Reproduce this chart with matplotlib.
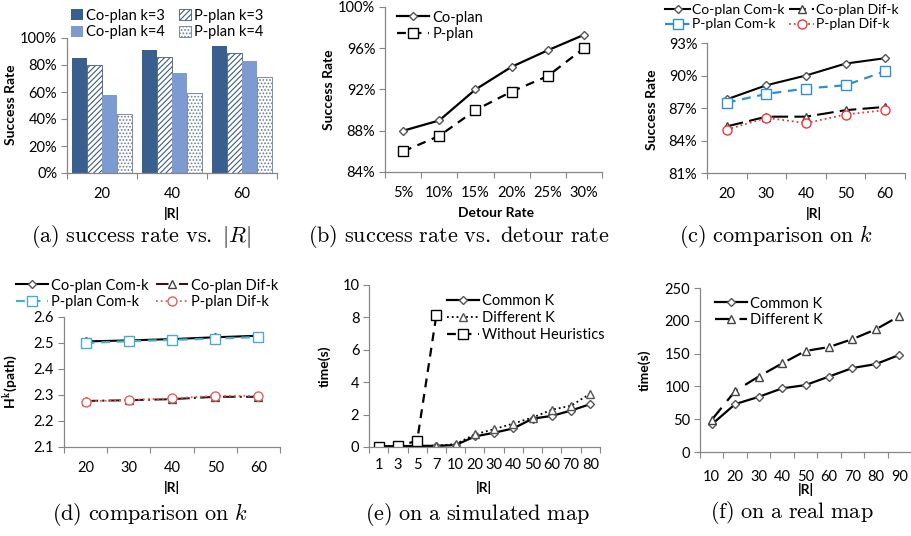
import matplotlib
matplotlib.use('Agg')
from matplotlib import pyplot as plt
import numpy as np

plt.rcParams['font.family'] = ['Lato', 'DejaVu Sans']
plt.rcParams['mathtext.fontset'] = 'cm'
plt.rcParams['hatch.linewidth'] = 0.8

# ---- data ----
# (a) success rate vs |R|
a_cats = ['20', '40', '60']
a_co3 = [85, 91, 94]
a_p3 = [80, 86, 89]
a_co4 = [58, 74, 83]
a_p4 = [43.5, 59, 71]

# (b) success rate vs detour rate
b_cats = ['5%', '10%', '15%', '20%', '25%', '30%']
b_co = [88.0, 89.0, 92.0, 94.2, 95.8, 97.3]
b_p = [86.0, 87.5, 90.0, 91.8, 93.3, 96.0]

# (c) comparison on k (success rate)
c_cats = ['20', '30', '40', '50', '60']
c_co_com = [87.8, 89.1, 90.0, 91.1, 91.6]
c_co_dif = [85.3, 86.2, 86.2, 86.8, 87.1]
c_p_com = [87.5, 88.3, 88.8, 89.1, 90.4]
c_p_dif = [85.0, 86.1, 85.6, 86.4, 86.8]

# (d) comparison on k (H^k(path))
d_cats = ['20', '30', '40', '50', '60']
d_co_com = [2.506, 2.510, 2.515, 2.522, 2.528]
d_co_dif = [2.277, 2.280, 2.284, 2.293, 2.293]
d_p_com = [2.500, 2.507, 2.512, 2.517, 2.523]
d_p_dif = [2.275, 2.281, 2.287, 2.297, 2.297]

# (e) simulated map
e_cats = ['1', '3', '5', '7', '10', '20', '30', '40', '50', '60', '70', '80']
e_common = [0.05, 0.05, 0.07, 0.07, 0.12, 0.65, 0.88, 1.15, 1.75, 1.92, 2.25, 2.65]
e_diff = [0.05, 0.05, 0.07, 0.08, 0.18, 0.78, 1.1, 1.45, 1.82, 2.3, 2.55, 3.3]
e_without = [0.03, 0.06, 0.38, 8.15]

# (f) real map
f_cats = ['10', '20', '30', '40', '50', '60', '70', '80', '90']
f_common = [42, 73, 84, 97, 102, 115, 128, 134, 148]
f_diff = [49, 93, 115, 135, 154, 160, 172, 187, 207]

W, H = 911, 536
fig = plt.figure(figsize=(W / 100, H / 100), dpi=100)

GRAY = '#868686'
TICK_FS = 10.5
LAB_FS = 10
LEG_FS = 10.5
CAP_FS = 16


def add_ax(l, t, r, b):
    return fig.add_axes([l / W, 1 - b / H, (r - l) / W, (b - t) / H])


def style(ax, cats, pad=10):
    n = len(cats)
    for s in ['top', 'right']:
        ax.spines[s].set_visible(False)
    for s in ['left', 'bottom']:
        ax.spines[s].set_color(GRAY)
        ax.spines[s].set_linewidth(0.9)
    ax.set_xlim(-0.5, n - 0.5)
    ax.set_xticks(np.arange(n + 1) - 0.5)
    ax.set_xticklabels([])
    ax.set_xticks(np.arange(n), cats, minor=True)
    ax.tick_params(axis='x', which='major', direction='out', length=4, color=GRAY)
    ax.tick_params(axis='x', which='minor', length=0, labelsize=TICK_FS, pad=pad)
    ax.tick_params(axis='y', direction='out', length=4, color=GRAY, labelsize=TICK_FS, pad=3)


def labels(ax, ylab, ypos, xlab, xpos):
    ax.set_ylabel(ylab, fontsize=LAB_FS, fontweight='bold')
    ax.yaxis.set_label_coords(ypos[0] / W, 1 - ypos[1] / H, transform=fig.transFigure)
    ax.set_xlabel(xlab, fontsize=LAB_FS, fontweight='bold', va='center')
    ax.xaxis.set_label_coords(xpos[0] / W, 1 - xpos[1] / H, transform=fig.transFigure)


def legend(ax, handles, cx, cy, ncol=1, **kw):
    opts = dict(loc='center', bbox_to_anchor=(cx / W, 1 - cy / H), bbox_transform=fig.transFigure,
                ncol=ncol, frameon=False, fontsize=LEG_FS, borderpad=0, labelspacing=0.2,
                handletextpad=0.2, columnspacing=0.5, handlelength=2.2)
    opts.update(kw)
    ax.legend(handles=handles, **opts)


def caption(x, y, s):
    fig.text(x / W, 1 - y / H, s, ha='center', va='center', fontsize=CAP_FS)


pct = lambda v, p: '{:.0f}%'.format(v)

# ---- (a) ----
ax = add_ax(67, 38, 277, 173)
style(ax, a_cats)
x = np.arange(len(a_cats))
bw = 0.215
b1 = ax.bar(x - 1.5 * bw, a_co3, bw, color='#395f8f', label='Co-plan k=3')
b2 = ax.bar(x - 0.5 * bw, a_p3, bw, color='white', edgecolor='#3f5a80', hatch='//////', lw=0.6, label='P-plan k=3')
b3 = ax.bar(x + 0.5 * bw, a_co4, bw, color='#7d9bd0', label='Co-plan k=4')
b4 = ax.bar(x + 1.5 * bw, a_p4, bw, color='white', edgecolor='#6a7c99', hatch='.....', lw=0.6, label='P-plan k=4')
ax.set_ylim(0, 100)
ax.set_yticks(np.arange(0, 101, 20))
ax.yaxis.set_major_formatter(pct)
labels(ax, 'Success Rate', (17, 105), '|R|', (172, 213))
legend(ax, [b1, b3, b2, b4], 167, 24, ncol=2, handlelength=0.8, handleheight=0.8, columnspacing=1.0)
caption(141, 236, r'$\mathrm{(a)\ success\ rate\ vs.\ }|R|$')

# ---- (b) ----
ax = add_ax(385, 7, 602, 172)
style(ax, b_cats)
x = np.arange(len(b_cats))
l1, = ax.plot(x, b_co, '-', color='black', lw=1.6, marker='D', ms=4.5, mfc='white', mec='#555555', label='Co-plan')
l2, = ax.plot(x, b_p, '--', color='black', lw=1.6, dashes=(4, 3), marker='s', ms=7, mfc='white', mec='black', label='P-plan')
ax.set_ylim(84, 100)
ax.set_yticks(np.arange(84, 101, 4))
ax.yaxis.set_major_formatter(pct)
labels(ax, 'Success Rate', (335, 90), 'Detour Rate', (496, 213))
legend(ax, [l1, l2], 440, 26)
caption(459, 236, r'$\mathrm{(b)\ success\ rate\ vs.\ detour\ rate}$')

# ---- (c) ----
ax = add_ax(707, 43, 905, 173)
style(ax, c_cats)
x = np.arange(len(c_cats))
l1, = ax.plot(x, c_co_com, '-', color='black', lw=1.5, marker='D', ms=4.5, mfc='white', mec='#555555', label='Co-plan Com-k')
l2, = ax.plot(x, c_co_dif, '-', color='black', lw=1.5, marker='^', ms=6, mfc='white', mec='#444444', label='Co-plan Dif-k')
l3, = ax.plot(x, c_p_com, '--', color='#2f8fd0', lw=1.6, dashes=(4, 3), marker='s', ms=7, mfc='white', mec='#2f8fd0', label='P-plan Com-k')
l4, = ax.plot(x, c_p_dif, ':', color='#e83a3a', lw=1.3, marker='o', ms=6.5, mfc='white', mec='#e83a3a', label='P-plan Dif-k')
l2.set_dashes((8, 3))
ax.set_ylim(81, 93)
ax.set_yticks(np.arange(81, 94, 3))
ax.yaxis.set_major_formatter(pct)
labels(ax, 'Success Rate', (658, 110), '|R|', (814, 213))
legend(ax, [l1, l3, l2, l4], 782, 17, ncol=2, fontsize=10, handlelength=1.8, handletextpad=0.15, columnspacing=0.3)
caption(776, 236, r'$\mathrm{(c)\ comparison\ on\ }k$')

# ---- (d) ----
ax = add_ax(64, 317, 280, 447)
style(ax, d_cats)
x = np.arange(len(d_cats))
l1, = ax.plot(x, d_co_com, '-', color='black', lw=1.5, marker='D', ms=4.5, mfc='white', mec='#555555', label='Co-plan Com-k')
l2, = ax.plot(x, d_co_dif, '-', color='#3a1414', lw=1.5, marker='^', ms=6, mfc='white', mec='#444444', label='Co-plan Dif-k')
l3, = ax.plot(x, d_p_com, '--', color='#4bacc6', lw=1.6, dashes=(4, 3), marker='s', ms=7, mfc='white', mec='#4bacc6', label='P-plan Com-k')
l4, = ax.plot(x, d_p_dif, ':', color='#e06060', lw=1.3, marker='o', ms=6.5, mfc='white', mec='#e06060', label='P-plan Dif-k')
l2.set_dashes((6, 2, 1, 2))
ax.set_ylim(2.1, 2.6)
ax.set_yticks(np.arange(2.1, 2.61, 0.1))
ax.yaxis.set_major_formatter(lambda v, p: '{:.1f}'.format(v))
labels(ax, r'H$^\mathbf{k}$(path)', (21, 382), '|R|', (172, 488))
legend(ax, [l1, l3, l2, l4], 147, 294, ncol=2)
caption(150, 515, r'$\mathrm{(d)\ comparison\ on\ }k$')

# ---- (e) ----
ax = add_ax(369, 285, 600, 447)
style(ax, e_cats, pad=8)
x = np.arange(len(e_cats))
l1, = ax.plot(x, e_common, '-', color='black', lw=1.6, marker='D', ms=4.5, mfc='white', mec='#555555', label='Common K')
l2, = ax.plot(x, e_diff, ':', color='black', lw=1.3, marker='^', ms=6, mfc='white', mec='#555555', label='Different K')
l3, = ax.plot(x[:len(e_without)], e_without, '--', color='black', lw=1.6, dashes=(4, 3), marker='s', ms=7, mfc='white', mec='black', label='Without Heuristics')
ax.set_ylim(0, 10)
ax.set_yticks(np.arange(0, 11, 2))
labels(ax, 'time(s)', (331, 366), '|R|', (484, 487))
legend(ax, [l1, l2, l3], 526, 318)
caption(477, 515, r'$\mathrm{(e)\ on\ a\ simulated\ map}$')

# ---- (f) ----
ax = add_ax(700, 288, 911, 452)
style(ax, f_cats, pad=13)
x = np.arange(len(f_cats))
l1, = ax.plot(x, f_common, '-', color='black', lw=1.6, marker='D', ms=4.5, mfc='white', mec='#555555', label='Common K')
l2, = ax.plot(x, f_diff, '--', color='black', lw=1.6, dashes=(7, 4), marker='^', ms=6, mfc='white', mec='#444444', label='Different K')
ax.set_ylim(0, 250)
ax.set_yticks(np.arange(0, 251, 50))
labels(ax, 'time(s)', (651, 370), '|R|', (806, 490))
legend(ax, [l1, l2], 769, 312)
caption(792, 513, r'$\mathrm{(f)\ on\ a\ real\ map}$')

fig.savefig('out.png', dpi=100)
